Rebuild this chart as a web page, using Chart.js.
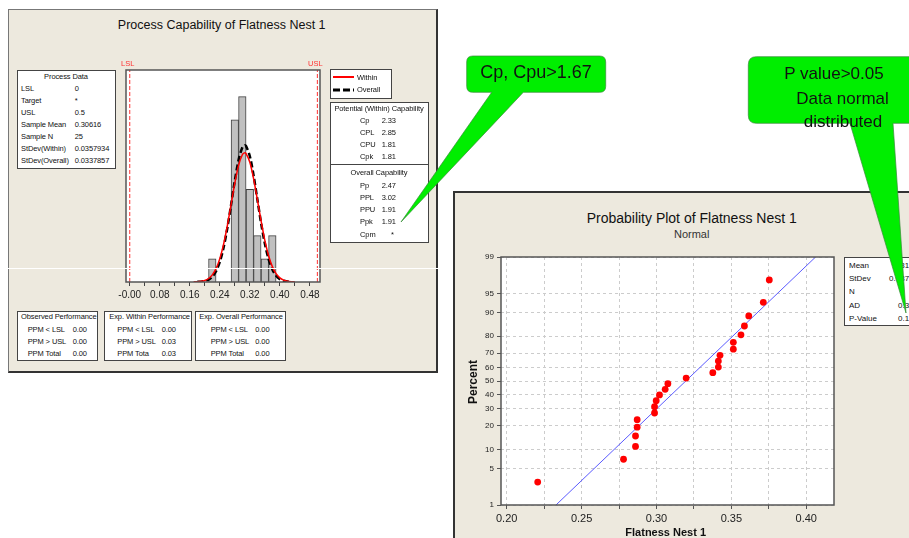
<!DOCTYPE html>
<html>
<head>
<meta charset="utf-8">
<script src="https://cdn.jsdelivr.net/npm/chart.js@4.4.1/dist/chart.umd.min.js"></script>
<style>
body { margin: 0; width: 909px; height: 538px; overflow: hidden; position: relative; background: #fff;
       font-family: "Liberation Sans", Arial, sans-serif; color: #111; }
.t { position: absolute; white-space: nowrap; line-height: 1; }
.box { position: absolute; background: #fff; border: 1px solid #444; box-sizing: border-box; }
#capPanel { position: absolute; left: 8px; top: 9px; width: 430px; height: 364px; background: #EDE9DE;
            border: 1px solid #777; border-right: 2px solid #333; border-bottom: 2px solid #333; box-sizing: border-box; }
#probPanel { position: absolute; left: 453px; top: 191px; width: 480px; height: 380px; background: #EDE9DE;
             border-left: 2px solid #333; border-top: 2px solid #333; box-sizing: border-box; }
canvas { position: absolute; }
#histCanvas { left: 100px; top: 55px; }
#probCanvas { left: 455px; top: 240px; }
#callouts { position: absolute; left: 0; top: 0; z-index: 10; }
#scanLine { position: absolute; left: 0; top: 268px; width: 446px; height: 1px; background: #fff; z-index: 11; }
</style>
</head>
<body>
<div id="capPanel"></div>
<div id="probPanel"></div>
<canvas id="histCanvas" width="240" height="255"></canvas>
<canvas id="probCanvas" width="390" height="298"></canvas>
<div id="texts"></div>

<svg id="callouts" width="909" height="538">
  <path d="M472.7 56 H599.7 Q605.7 56 605.7 62 V86.3 Q605.7 92.3 599.7 92.3 H523.3 L401 222 L491.7 92.3 H472.7 Q466.7 92.3 466.7 86.3 V62 Q466.7 56 472.7 56 Z"
        fill="#00ee00" stroke="#3a8a3a" stroke-width="0.7"/>
  <path d="M756.3 56.7 H918 V123.3 H893 L906 313 L850 123.3 H756.3 Q748.3 123.3 748.3 115.3 V64.7 Q748.3 56.7 756.3 56.7 Z"
        fill="#00ee00" stroke="#3a8a3a" stroke-width="0.7"/>
  <g font-family="Liberation Sans, Arial, sans-serif" fill="#111" text-anchor="middle">
    <text x="536" y="77.5" font-size="18">Cp, Cpu&gt;1.67</text>
    <text x="834" y="79" font-size="17">P value&gt;0.05</text>
    <text x="842.5" y="104" font-size="17">Data normal</text>
    <text x="843" y="126.5" font-size="17">distributed</text>
  </g>
</svg>
<div id="scanLine"></div>

<script>
// histogram data
const histBinCenters = [0.22, 0.28, 0.30, 0.32, 0.34, 0.36, 0.38];
const histCounts = [1, 7, 8, 4, 2, 1, 2];
const histYMax = 9.15;
const specLimits = [0, 0.5];
const specNames = ['LSL', 'USL'];
const histTickValues = [0, 0.04, 0.08, 0.12, 0.16, 0.20, 0.24, 0.28, 0.32, 0.36, 0.40, 0.44, 0.48];
const histTickLabels = ['-0.00', '', '0.08', '', '0.16', '', '0.24', '', '0.32', '', '0.40', '', '0.48'];

// fitted curves
const withinCurveX = [0.17, 0.18, 0.19, 0.20, 0.21, 0.22, 0.23, 0.24, 0.25, 0.26, 0.27, 0.28, 0.29, 0.30, 0.306,
                      0.31, 0.32, 0.33, 0.34, 0.35, 0.36, 0.37, 0.38, 0.39, 0.40, 0.41, 0.42, 0.43, 0.44];
const withinCurveY = [0.004, 0.011, 0.029, 0.068, 0.151, 0.308, 0.579, 1.010, 1.627, 2.427, 3.347, 4.267, 5.033, 5.491, 5.573,
                      5.541, 5.171, 4.464, 3.565, 2.633, 1.798, 1.135, 0.664, 0.358, 0.179, 0.083, 0.035, 0.014, 0.005];
const overallCurveX = [0.18, 0.19, 0.20, 0.21, 0.22, 0.23, 0.24, 0.25, 0.26, 0.27, 0.28, 0.29, 0.30, 0.306,
                       0.31, 0.32, 0.33, 0.34, 0.35, 0.36, 0.37, 0.38, 0.39, 0.40, 0.41, 0.42, 0.43];
const overallCurveY = [0.006, 0.016, 0.042, 0.103, 0.228, 0.465, 0.866, 1.481, 2.320, 3.328, 4.376, 5.266, 5.807, 5.904,
                       5.866, 5.428, 4.603, 3.574, 2.543, 1.657, 0.990, 0.541, 0.272, 0.124, 0.052, 0.020, 0.007];

// probability plot data
const probX = [0.2207, 0.278, 0.286, 0.286, 0.2871, 0.2871, 0.2987, 0.2987, 0.2998, 0.302, 0.3058, 0.3076,
               0.3198, 0.3376, 0.3413, 0.3413, 0.3424, 0.3513, 0.3513, 0.3564, 0.3587, 0.3616, 0.3713, 0.3753];
const probPercent = [2.9, 7.1, 11.0, 15.1, 19.3, 23.4, 27.4, 31.5, 35.6, 39.7, 43.8, 48.0,
                     52.2, 56.2, 60.3, 64.6, 68.5, 72.5, 76.6, 80.7, 84.9, 88.9, 93.0, 97.1];
const fitLineX = [0.2329, 0.4062];
const fitLinePercent = [1, 99];
const probTickPercents = [1, 5, 10, 20, 30, 40, 50, 60, 70, 80, 90, 95, 99];
const probXTickValues = [0.20, 0.225, 0.25, 0.275, 0.30, 0.325, 0.35, 0.375, 0.40];
const probXTickLabels = ['0.20', '', '0.25', '', '0.30', '', '0.35', '', '0.40'];

// side tables
const processLabels = ['LSL', 'Target', 'USL', 'Sample Mean', 'Sample N', 'StDev(Within)', 'StDev(Overall)'];
const processValues = ['0', '*', '0.5', '0.30616', '25', '0.0357934', '0.0337857'];
const withinCapLabels = ['Cp', 'CPL', 'CPU', 'Cpk'];
const withinCapValues = ['2.33', '2.85', '1.81', '1.81'];
const overallCapLabels = ['Pp', 'PPL', 'PPU', 'Ppk', 'Cpm'];
const overallCapValues = ['2.47', '3.02', '1.91', '1.91', '*'];
const perfTitles = ['Observed Performance', 'Exp. Within Performance', 'Exp. Overall Performance'];
const perfLabels = [['PPM < LSL', 'PPM > USL', 'PPM Total'], ['PPM < LSL', 'PPM > USL', 'PPM Tota'], ['PPM < LSL', 'PPM > USL', 'PPM Total']];
const perfValues = [['0.00', '0.00', '0.00'], ['0.00', '0.03', '0.03'], ['0.00', '0.00', '0.00']];
const probStatLabels = ['Mean', 'StDev', 'N', 'AD', 'P-Value'];
const probStatValues = ['0.3196', '0.03750', '24', '0.388', '0.120'];

const FONT = '"Liberation Sans", Arial, sans-serif';
const layer = document.getElementById('texts');

// put a piece of text, y is the visual middle
function txt(s, x, y, size, opts) {
    opts = opts || {};
    const d = document.createElement('div');
    d.className = 't';
    d.textContent = s;
    d.style.fontSize = size + 'px';
    d.style.top = (y - size / 2) + 'px';
    d.style.zIndex = opts.z || 3;
    if (opts.color) d.style.color = opts.color;
    if (opts.bold) d.style.fontWeight = 'bold';
    if (opts.ls) d.style.letterSpacing = opts.ls + 'px';
    if (opts.align === 'center') {
        d.style.left = x + 'px';
        d.style.transform = 'translateX(-50%)' + (opts.rotate ? ' rotate(-90deg)' : '');
    } else if (opts.align === 'right') {
        d.style.right = (909 - x) + 'px';
    } else {
        d.style.left = x + 'px';
    }
    layer.appendChild(d);
    return d;
}

function box(x, y, w, h, z) {
    const d = document.createElement('div');
    d.className = 'box';
    d.style.left = x + 'px'; d.style.top = y + 'px';
    d.style.width = w + 'px'; d.style.height = h + 'px';
    d.style.zIndex = z || 2;
    layer.appendChild(d);
    return d;
}

/* LEFT PANEL TEXT */
txt('Process Capability of Flatness Nest 1', 221.7, 25.7, 12.5, { align: 'center' });

// process data
box(17, 69.5, 99, 99);
txt('Process Data', 66, 76.7, 7.5, { align: 'center', ls: -0.1 });
processLabels.forEach((l, i) => {
    const y = 88.3 + i * 12.07;
    txt(l, 21, y, 7.5, { ls: -0.1 });
    txt(processValues[i], 74.7, y, 7.5, { ls: -0.1 });
});

// legend
const lg = box(330, 69.3, 62, 30);
lg.innerHTML = '<svg width="60" height="28" style="position:absolute;left:0;top:0">' +
    '<line x1="2" y1="7" x2="23" y2="7" stroke="#ff0000" stroke-width="2"/>' +
    '<line x1="2" y1="20" x2="23" y2="20" stroke="#000" stroke-width="3" stroke-dasharray="7,3"/></svg>';
txt('Within', 357, 77.3, 7.5, { ls: -0.1 });
txt('Overall', 357, 90, 7.5, { ls: -0.1 });

// capability
const cb = box(330, 101.7, 98.5, 141.6);
const dv = document.createElement('div');
dv.style.cssText = 'position:absolute;left:0;right:0;top:61px;height:0;border-top:1px solid #444;';
cb.appendChild(dv);
txt('Potential (Within) Capability', 379, 108.3, 7.5, { align: 'center', ls: -0.1 });
withinCapLabels.forEach((l, i) => {
    const y = 120.7 + i * 12;
    txt(l, 360, y, 7.5, { ls: -0.1 });
    txt(withinCapValues[i], 381.7, y, 7.5, { ls: -0.1 });
});
txt('Overall Capability', 379, 172.3, 7.5, { align: 'center', ls: -0.1 });
overallCapLabels.forEach((l, i) => {
    const y = 186 + i * 12.08;
    txt(l, 360, y, 7.5, { ls: -0.1 });
    txt(overallCapValues[i], overallCapValues[i] === '*' ? 391 : 381.7, y, 7.5, { ls: -0.1 });
});

// performance tables
const perfBoxX = [17, 104.3, 195.3];
const perfBoxW = [81, 87.4, 90.7];
const perfLabelX = [27.7, 117.3, 210.7];
const perfValueX = [72.7, 161.7, 255.3];
const perfTitleX = [21, 109.3, 199.3];
perfTitles.forEach((t, b) => {
    box(perfBoxX[b], 310.5, perfBoxW[b], 50.5);
    txt(t, perfTitleX[b], 316.7, 7.5, { ls: -0.1 });
    perfLabels[b].forEach((l, i) => {
        const y = 329.3 + i * 12;
        txt(l, perfLabelX[b], y, 7.5, { ls: -0.1 });
        txt(perfValues[b][i], perfValueX[b], y, 7.5, { ls: -0.1 });
    });
});

/* RIGHT PANEL TEXT */
txt('Probability Plot of Flatness Nest 1', 691.7, 218, 14, { align: 'center' });
txt('Normal', 691.7, 234, 11, { align: 'center', color: '#333' });
txt('Flatness Nest 1', 665.7, 532.7, 11, { align: 'center', bold: true });
txt('Percent', 473.3, 381.7, 12, { align: 'center', bold: true, rotate: true });
box(844.3, 256.7, 80, 69.5);
probStatLabels.forEach((l, i) => {
    const y = 265.7 + i * 13.3;
    txt(l, 849, y, 8);
    txt(probStatValues[i], 918, y, 8, { align: 'right' });
});

/* PLOT FRAME PLUGIN */
const plotFrame = {
    id: 'plotFrame',
    beforeDraw(chart) {
        const a = chart.chartArea, c = chart.ctx;
        c.save();
        c.fillStyle = '#fff';
        c.fillRect(a.left, a.top, a.right - a.left, a.bottom - a.top);
        c.restore();
    },
    afterDraw(chart) {
        const a = chart.chartArea, c = chart.ctx;
        c.save();
        c.strokeStyle = '#555';
        c.lineWidth = 1.5;
        c.strokeRect(a.left, a.top, a.right - a.left, a.bottom - a.top);
        c.restore();
    }
};

// LSL / USL labels above the plot
const specLabels = {
    id: 'specLabels',
    afterDraw(chart) {
        const c = chart.ctx, xs = chart.scales.x, a = chart.chartArea;
        c.save();
        c.fillStyle = '#ff3333';
        c.font = '7.5px ' + FONT;
        c.textAlign = 'center';
        c.textBaseline = 'middle';
        specLimits.forEach((v, i) => c.fillText(specNames[i], xs.getPixelForValue(v) - 2, a.top - 6.5));
        c.restore();
    }
};

/* HISTOGRAM */
const pts = (xs, ys) => xs.map((x, i) => ({ x: x, y: ys[i] }));
new Chart(document.getElementById('histCanvas'), {
    type: 'bar',
    data: {
        datasets: [
            { type: 'line', label: 'Within', data: pts(withinCurveX, withinCurveY), borderColor: '#ff0000',
              borderWidth: 1.5, pointRadius: 0, tension: 0.3 },
            { type: 'line', label: 'Overall', data: pts(overallCurveX, overallCurveY), borderColor: '#000',
              borderWidth: 2.5, borderDash: [6, 3], pointRadius: 0, tension: 0.3 },
            { type: 'line', label: 'LSL', data: pts([specLimits[0], specLimits[0]], [0, histYMax]),
              borderColor: '#ff3030', borderWidth: 1, borderDash: [4, 2], pointRadius: 0 },
            { type: 'line', label: 'USL', data: pts([specLimits[1], specLimits[1]], [0, histYMax]),
              borderColor: '#ff3030', borderWidth: 1, borderDash: [4, 2], pointRadius: 0 },
            { type: 'bar', label: 'Count', data: pts(histBinCenters, histCounts), backgroundColor: '#c0c0c0',
              borderColor: '#404040', borderWidth: 1, barPercentage: 1, categoryPercentage: 1 }
        ]
    },
    options: {
        responsive: false, animation: false, events: [],
        layout: { padding: { left: 26, right: 20, top: 15, bottom: 8 } },
        plugins: { legend: { display: false }, tooltip: { enabled: false } },
        scales: {
            x: {
                type: 'linear', min: -0.010, max: 0.507, offset: false,
                afterBuildTicks: s => { s.ticks = histTickValues.map(v => ({ value: v })); },
                afterFit: s => { s.height = 20; },
                ticks: { autoSkip: false, maxRotation: 0, color: '#222', font: { size: 10, family: FONT },
                         callback: (v, i) => histTickLabels[i] },
                grid: { offset: false, drawOnChartArea: false, drawTicks: true, tickLength: 4, color: '#444' },
                border: { display: false }
            },
            y: { display: false, min: 0, max: histYMax }
        }
    },
    plugins: [plotFrame, specLabels]
});

/* PROBABILITY PLOT */
// inverse standard normal (Acklam), used for the probability axis
function normInv(p) {
    const a = [-3.969683028665376e+01, 2.209460984245205e+02, -2.759285104469687e+02, 1.383577518672690e+02, -3.066479806614716e+01, 2.506628277459239e+00];
    const b = [-5.447609879822406e+01, 1.615858368580409e+02, -1.556989798598866e+02, 6.680131188771972e+01, -1.328068155288572e+01];
    const c = [-7.784894002430293e-03, -3.223964580411365e-01, -2.400758277161838e+00, -2.549732539343734e+00, 4.374664141464968e+00, 2.938163982698783e+00];
    const d = [7.784695709041462e-03, 3.224671290700398e-01, 2.445134137142996e+00, 3.754408661907416e+00];
    let q, r;
    if (p < 0.02425) {
        q = Math.sqrt(-2 * Math.log(p));
        return (((((c[0] * q + c[1]) * q + c[2]) * q + c[3]) * q + c[4]) * q + c[5]) / ((((d[0] * q + d[1]) * q + d[2]) * q + d[3]) * q + 1);
    }
    if (p > 1 - 0.02425) {
        q = Math.sqrt(-2 * Math.log(1 - p));
        return -(((((c[0] * q + c[1]) * q + c[2]) * q + c[3]) * q + c[4]) * q + c[5]) / ((((d[0] * q + d[1]) * q + d[2]) * q + d[3]) * q + 1);
    }
    q = p - 0.5; r = q * q;
    return (((((a[0] * r + a[1]) * r + a[2]) * r + a[3]) * r + a[4]) * r + a[5]) * q / (((((b[0] * r + b[1]) * r + b[2]) * r + b[3]) * r + b[4]) * r + 1);
}
const zOf = pc => normInv(pc / 100);

new Chart(document.getElementById('probCanvas'), {
    type: 'scatter',
    data: {
        datasets: [
            { label: 'Flatness Nest 1', data: probX.map((x, i) => ({ x: x, y: zOf(probPercent[i]) })),
              backgroundColor: '#ff0000', borderColor: '#ff0000', pointRadius: 3.4, borderWidth: 0 },
            { type: 'line', label: 'Fit', data: fitLineX.map((x, i) => ({ x: x, y: zOf(fitLinePercent[i]) })),
              borderColor: '#5b5bff', borderWidth: 1, pointRadius: 0 }
        ]
    },
    options: {
        responsive: false, animation: false, events: [],
        layout: { padding: { left: 16, right: 11, top: 17, bottom: 11 } },
        plugins: { legend: { display: false }, tooltip: { enabled: false } },
        scales: {
            x: {
                type: 'linear', min: 0.1962, max: 0.4185,
                afterBuildTicks: s => { s.ticks = probXTickValues.map(v => ({ value: v })); },
                afterFit: s => { s.height = 22; },
                ticks: { autoSkip: false, maxRotation: 0, color: '#222', font: { size: 11, family: FONT },
                         callback: (v, i) => probXTickLabels[i] },
                grid: { color: '#cccccc', tickColor: '#555', tickLength: 4, tickBorderDash: [] },
                border: { display: false, dash: [3, 3] }
            },
            y: {
                type: 'linear', min: zOf(1), max: zOf(99),
                afterBuildTicks: s => { s.ticks = probTickPercents.map(p => ({ value: zOf(p) })); },
                afterFit: s => { s.width = 30; },
                ticks: { autoSkip: false, color: '#222', font: { size: 8, family: FONT },
                         callback: (v, i) => String(probTickPercents[i]) },
                grid: { color: '#cccccc', tickColor: '#555', tickLength: 4, tickBorderDash: [] },
                border: { display: false, dash: [3, 3] }
            }
        }
    },
    plugins: [plotFrame]
});
</script>
</body>
</html>
